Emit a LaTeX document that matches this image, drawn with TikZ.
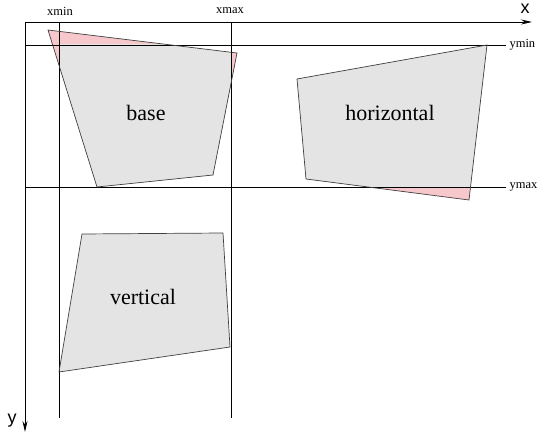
\documentclass[tikz,border=0pt]{standalone}
\usepackage{fontspec}
\setmainfont{Liberation Serif}
\setsansfont{Liberation Sans}
\usetikzlibrary{arrows.meta}
\definecolor{polyfill}{HTML}{E4E4E4}
\definecolor{pinkfill}{HTML}{F6C8CC}
\definecolor{edge}{HTML}{404040}
\tikzset{
  axis/.style={line width=0.9pt, -{Stealth[length=11pt,width=5pt]}},
  guide/.style={line width=0.7pt, black},
  poly/.style={draw=edge, line width=0.7pt},
  lbl/.style={font=\fontsize{22}{24}\selectfont},
  small/.style={font=\fontsize{12.5}{14}\selectfont},
  axlbl/.style={font=\sffamily\fontsize{18}{20}\selectfont}
}
\begin{document}
\begin{tikzpicture}[x=1pt,y=-1pt]
\useasboundingbox (0,0) rectangle (541,441);
% base polygon
\fill[pinkfill] (48,30) -- (237,53) -- (213,175) -- (97,187) -- cycle;
\begin{scope}
  \clip (59,45) rectangle (231,187);
  \fill[polyfill] (48,30) -- (237,53) -- (213,175) -- (97,187) -- cycle;
\end{scope}
% horizontal polygon
\fill[pinkfill] (297,79) -- (487,45) -- (469,200) -- (306,179) -- cycle;
\begin{scope}
  \clip (280,45) rectangle (500,187);
  \fill[polyfill] (297,79) -- (487,45) -- (469,200) -- (306,179) -- cycle;
\end{scope}
% vertical polygon
\fill[polyfill] (82,234) -- (223,233) -- (230,347) -- (59,372) -- cycle;
% guide lines
\draw[guide] (59,22) -- (59,418);
\draw[guide] (231,22) -- (231,418);
\draw[guide] (25,45) -- (506,45);
\draw[guide] (25,187) -- (506,187);
% outlines
\draw[poly] (48,30) -- (237,53) -- (213,175) -- (97,187) -- cycle;
\draw[poly] (297,79) -- (487,45) -- (469,200) -- (306,179) -- cycle;
\draw[poly] (82,234) -- (223,233) -- (230,347) -- (59,372) -- cycle;
% axes
\coordinate (o) at (25,22);
\coordinate (xe) at (532,22);
\coordinate (ye) at (25,432);
\draw[axis] (o) -- (xe);
\draw[axis] (o) -- (ye);
% labels
\node[axlbl] (xl) at (525,9) {x};
\node[axlbl] (yl) at (12,421) {y};
\node[small] (xminl) at (60,11) {xmin};
\node[small] (xmaxl) at (230,11) {xmax};
\node[small, anchor=west] (yminl) at (506,45) {ymin};
\node[small, anchor=west] (ymaxl) at (506,187) {ymax};
\node[lbl] (basel) at (146,113) {base};
\node[lbl] (horl) at (390,113) {horizontal};
\node[lbl] (verl) at (143,297) {vertical};
\end{tikzpicture}
\end{document}
